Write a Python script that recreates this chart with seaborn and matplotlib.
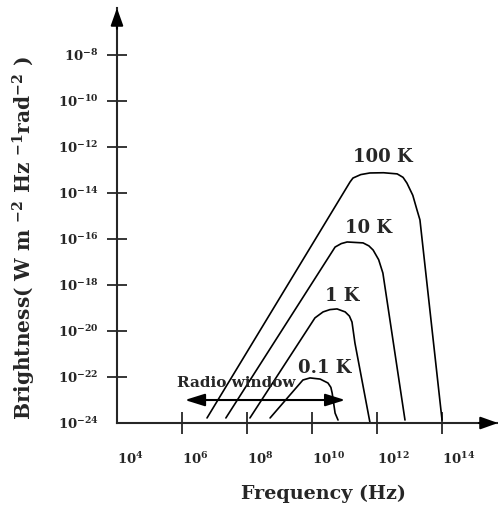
import pandas as pd
import seaborn as sns
import matplotlib.pyplot as plt

# ------------------------------------------------------------------
# DATA (log10 values)
temps = ['100 K', '10 K', '1 K', '0.1 K']

log_f_100 = [6.77, 11.17, 11.26, 11.50, 11.78, 12.20, 12.62, 12.80, 12.92, 13.10, 13.23, 13.32, 14.0]
log_b_100 = [-23.78, -13.52, -13.35, -13.20, -13.13, -13.12, -13.17, -13.32, -13.57, -14.10, -14.74, -15.17, -23.87]

log_f_10 = [7.35, 10.71, 10.90, 11.08, 11.57, 11.75, 11.88, 12.05, 12.18, 12.86]
log_b_10 = [-23.78, -16.35, -16.20, -16.13, -16.17, -16.30, -16.48, -16.90, -17.48, -23.87]

log_f_1 = [8.09, 10.09, 10.34, 10.55, 10.77, 11.02, 11.15, 11.23, 11.32, 11.78]
log_b_1 = [-23.78, -19.43, -19.17, -19.07, -19.04, -19.17, -19.35, -19.61, -20.52, -23.96]

log_f_01 = [8.71, 9.72, 9.94, 10.25, 10.49, 10.58, 10.62, 10.71, 10.80]
log_b_01 = [-23.78, -22.13, -22.04, -22.09, -22.26, -22.45, -22.70, -23.57, -23.87]

x_tick_exp = [4, 6, 8, 10, 12, 14]
y_tick_exp = [-24, -22, -20, -18, -16, -14, -12, -10, -8]

# ------------------------------------------------------------------
rows = []
for temp, fs, bs in zip(temps, [log_f_100, log_f_10, log_f_1, log_f_01],
                        [log_b_100, log_b_10, log_b_1, log_b_01]):
    for f, b in zip(fs, bs):
        rows.append({'temp': temp, 'freq': 10.0 ** f, 'bright': 10.0 ** b})
df = pd.DataFrame(rows)

sns.set_style('ticks')
plt.rcParams['font.family'] = ['DejaVu Serif']
plt.rcParams['font.weight'] = 'bold'
plt.rcParams['axes.labelweight'] = 'bold'
plt.rcParams['mathtext.fontset'] = 'custom'
plt.rcParams['mathtext.rm'] = 'DejaVu Serif:bold'
plt.rcParams['mathtext.bf'] = 'DejaVu Serif:bold'
plt.rcParams['mathtext.it'] = 'DejaVu Serif:bold:italic'

fig = plt.figure(figsize=(4.98, 5.12), dpi=100)
ax = fig.add_axes([0.2349, 0.1738, 0.765, 0.8105])
ax.set(xscale='log', yscale='log')

sns.lineplot(data=df, x='freq', y='bright', units='temp', estimator=None,
             sort=False, color='black', lw=1.2, ax=ax)

ax.set_xlim(1e4, 10 ** 15.72)
ax.set_ylim(1e-24, 10 ** -5.96)
ax.minorticks_off()

ax.set_xticks([10.0 ** e for e in x_tick_exp],
              [r'$10^{%d}$' % e for e in x_tick_exp])
ax.set_yticks([10.0 ** e for e in y_tick_exp],
              [r'$10^{%d}$' % e for e in y_tick_exp])
for lbl in ax.get_xticklabels():
    lbl.set_ha('left')
ax.xaxis.get_major_ticks()[0].tick1line.set_visible(False)
ax.yaxis.get_major_ticks()[0].tick1line.set_visible(False)
ax.tick_params(axis='x', direction='inout', length=16.5, width=1.3, pad=12, labelsize=9.5)
ax.tick_params(axis='y', direction='inout', length=14.4, width=1.3, pad=6, labelsize=9.5)

sns.despine(ax=ax)
for side in ['left', 'bottom']:
    ax.spines[side].set_linewidth(1.5)

# arrow heads on the axes
head = dict(arrowstyle='-|>,head_length=0.7,head_width=0.25', color='black',
            lw=1.5, mutation_scale=15, shrinkA=0, shrinkB=0)
ax.annotate('', xy=(1, 0), xytext=(0.95, 0), xycoords='axes fraction',
            arrowprops=head, annotation_clip=False)
ax.annotate('', xy=(0, 1), xytext=(0, 0.95), xycoords='axes fraction',
            arrowprops=head, annotation_clip=False)

# curve labels
ax.text(10 ** 12.18, 10 ** -12.43, '100 K', ha='center', va='center', fontsize=13)
ax.text(10 ** 11.75, 10 ** -15.52, '10 K', ha='center', va='center', fontsize=13)
ax.text(10 ** 10.92, 10 ** -18.48, '1 K', ha='center', va='center', fontsize=13)
ax.text(10 ** 10.40, 10 ** -21.61, '0.1 K', ha='center', va='center', fontsize=13)

# radio window
ax.annotate('', xy=(10 ** 6.09, 10 ** -23.0), xytext=(10 ** 11.02, 10 ** -23.0),
            arrowprops=dict(arrowstyle='<|-|>,head_length=0.8,head_width=0.25',
                            color='black', lw=1.5, mutation_scale=15,
                            shrinkA=0, shrinkB=0))
ax.text(10 ** 7.66, 10 ** -22.26, 'Radio window', ha='center', va='center', fontsize=11)

ax.set_xlabel('Frequency (Hz)', fontsize=13.8)
ax.set_ylabel(r'Brightness( W m $^{-2}$ Hz $^{-1}$rad$^{-2}$ )', fontsize=14.5)
ax.xaxis.set_label_coords(0.543, -0.149)
ax.yaxis.set_label_coords(-0.207, 0.446)

fig.savefig('out.png', dpi=100)
